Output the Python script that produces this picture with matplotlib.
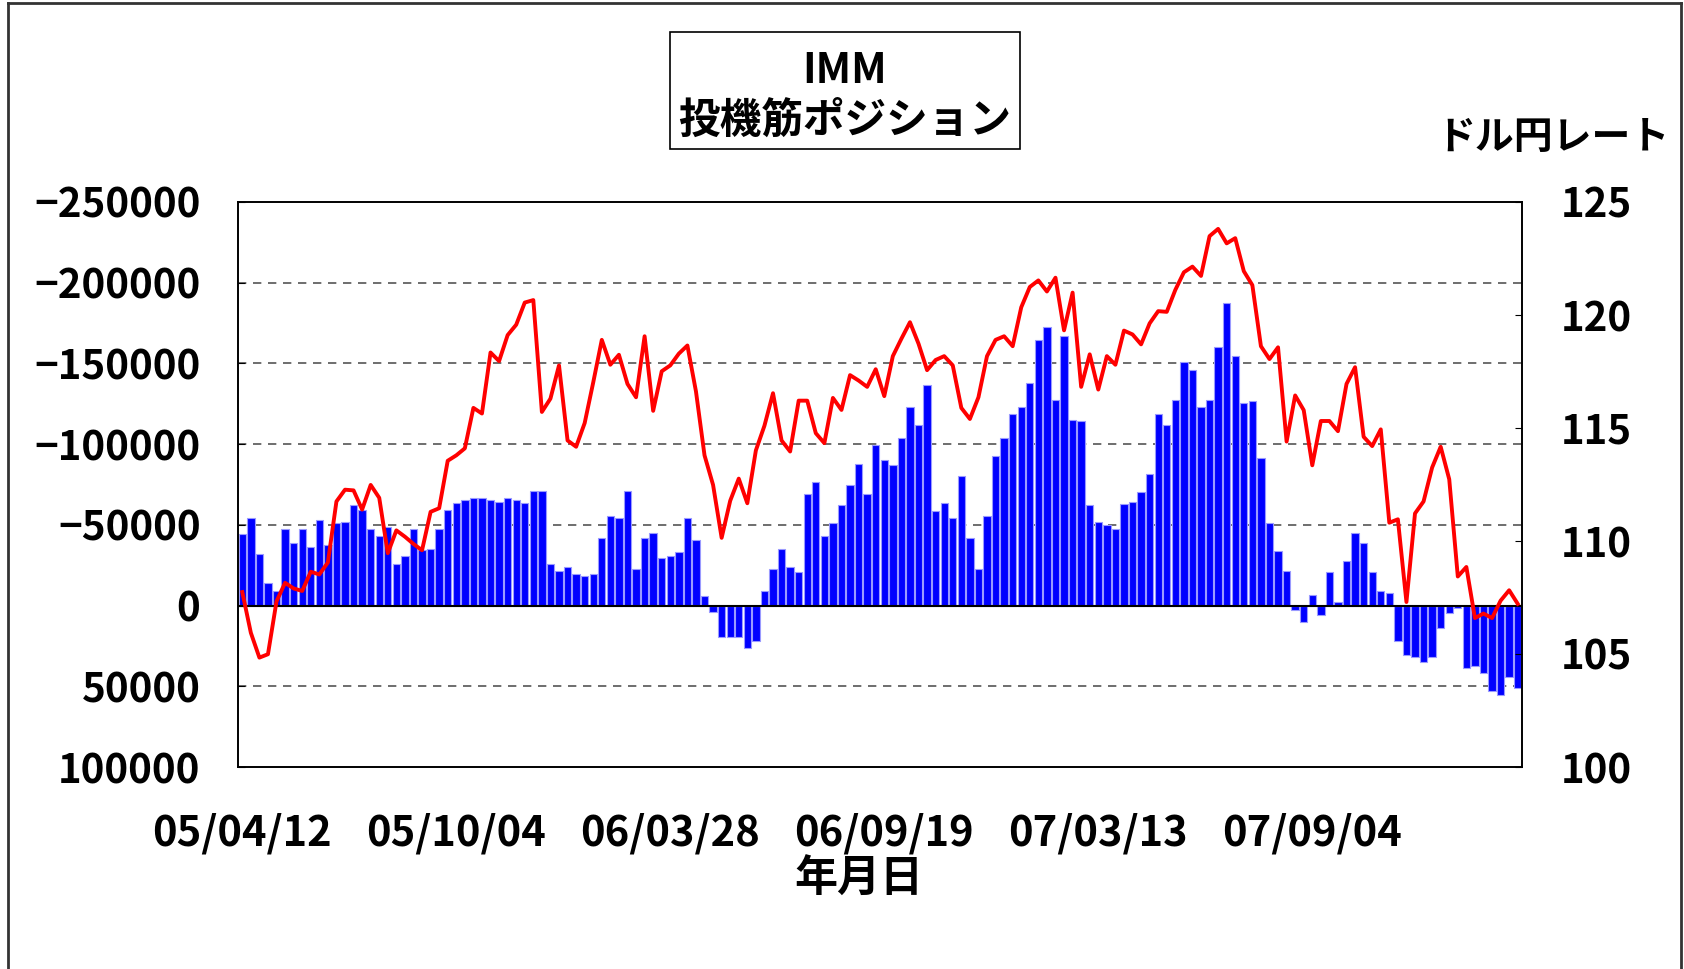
import matplotlib
matplotlib.use("Agg")
import matplotlib.pyplot as plt
from matplotlib.lines import Line2D
from matplotlib.patches import Rectangle
from matplotlib.ticker import FuncFormatter
import numpy as np

plt.rcParams['font.family'] = ['Noto Sans CJK JP', 'DejaVu Sans']
plt.rcParams['font.weight'] = 'bold'

# IMM speculative positions (negative = yen short, plotted upward on inverted axis)
positions = [
    -44500, -54300, -32000, -13700, -9100, -47500, -38600, -47500, -36100, -53200,
    -37700, -50900, -52000, -62100, -58900, -47500, -43100, -48400, -26000, -30600,
    -47500, -34500, -35000, -47500, -58900, -63500, -65500, -66900, -66900, -65500,
    -64400, -66900, -65500, -63500, -71200, -71200, -26000, -21700, -23700, -19400,
    -18300, -19400, -41800, -55500, -54300, -71200, -22600, -41800, -45200, -29500,
    -30600, -32900, -54300, -40900, -5900, 3700, 19400, 19400, 19400, 26000,
    21700, -9100, -22600, -35200, -23700, -20500, -68900, -76700, -42900, -50900,
    -62100, -74400, -87900, -68900, -99300, -90200, -86800, -103900, -123300, -111900,
    -136500, -58700, -63500, -54300, -80400, -41800, -22600, -55500, -92500, -103900,
    -118700, -123300, -137700, -164800, -172600, -127600, -167100, -115000, -114200, -62100,
    -52000, -49800, -47500, -63200, -64400, -70100, -81300, -118700, -111900, -127600,
    -151100, -145700, -123100, -127600, -160300, -187200, -154600, -125400, -126500, -91500,
    -50900, -34000, -21700, 2500, 10300, -6800, 5900, -20500, -2300, -27400,
    -45200, -38600, -20500, -9100, -8000, 21700, 30600, 31700, 35200, 31700,
    13700, 4800, 1400, 38400, 37200, 41800, 53000, 55200, 44000, 50900,
]

# USD/JPY rate
usdjpy = [
    107.74, 105.94, 104.84, 104.99, 107.33, 108.15, 107.90, 107.79, 108.64, 108.52,
    109.05, 111.75, 112.27, 112.24, 111.39, 112.48, 111.91, 109.46, 110.47, 110.19,
    109.87, 109.59, 111.29, 111.45, 113.55, 113.79, 114.10, 115.89, 115.64, 118.34,
    117.96, 119.11, 119.57, 120.55, 120.66, 115.71, 116.30, 117.77, 114.45, 114.17,
    115.22, 117.02, 118.90, 117.80, 118.24, 116.95, 116.36, 119.06, 115.76, 117.51,
    117.77, 118.29, 118.65, 116.62, 113.79, 112.48, 110.14, 111.78, 112.76, 111.67,
    114.01, 115.10, 116.54, 114.45, 113.96, 116.21, 116.21, 114.77, 114.33, 116.33,
    115.80, 117.34, 117.10, 116.82, 117.60, 116.41, 118.18, 118.95, 119.68, 118.73,
    117.56, 118.01, 118.18, 117.77, 115.89, 115.40, 116.36, 118.18, 118.90, 119.06,
    118.62, 120.34, 121.24, 121.53, 121.04, 121.65, 119.32, 120.99, 116.82, 118.26,
    116.70, 118.18, 117.80, 119.31, 119.14, 118.70, 119.63, 120.17, 120.14, 121.11,
    121.89, 122.14, 121.73, 123.49, 123.81, 123.17, 123.40, 121.94, 121.32, 118.62,
    118.05, 118.57, 114.40, 116.44, 115.79, 113.35, 115.31, 115.31, 114.86, 116.95,
    117.69, 114.61, 114.20, 114.94, 110.81, 110.96, 107.30, 111.22, 111.75, 113.25,
    114.17, 112.73, 108.43, 108.85, 106.59, 106.79, 106.59, 107.36, 107.82, 107.22,
]

tick_labels = ["05/04/12", "05/10/04", "06/03/28", "06/09/19", "07/03/13", "07/09/04"]
tick_step = 25

title_lines = ["IMM", "投機筋ポジション"]
right_label = "ドル円レート"
x_label = "年月日"

n = len(positions)
x = np.arange(n)

FS = 29

fig = plt.figure(figsize=(16.84, 9.69), dpi=100)
ax = fig.add_axes([238/1684, 1-767/969, (1522-238)/1684, (767-202)/969])
ax2 = ax.twinx()

ax.bar(x, positions, width=0.86, color='#0000FF', edgecolor='#9a9aff', linewidth=0.8, zorder=2)
ax.set_xlim(-0.5, n - 0.5)
ax.set_ylim(100000, -250000)
ax.set_yticks(np.arange(-250000, 100001, 50000))
ax.yaxis.set_major_formatter(FuncFormatter(lambda v, p: ("\u2212%d" % -v) if v < 0 else "%d" % v))
for gv in [-200000, -150000, -100000, -50000, 50000]:
    ax.axhline(gv, color='#555555', linestyle=(0, (5, 4)), linewidth=1.2, zorder=1)
ax.axhline(0, color='black', linewidth=1.5, zorder=3)

ax.set_xticks(x[::tick_step])
ax.set_xticklabels(tick_labels)
ax.tick_params(axis='x', length=0, pad=33, labelsize=30)
ax.tick_params(axis='y', direction='in', length=5, pad=27, labelsize=FS)
for lab in ax.get_xticklabels() + ax.get_yticklabels():
    lab.set_fontweight('bold')

ax2.plot(x, usdjpy, color='#FF0000', linewidth=2.8, zorder=4)
ax2.set_ylim(100, 125)
ax2.set_yticks(np.arange(100, 126, 5))
ax2.tick_params(axis='y', direction='in', length=5, pad=28, labelsize=FS)
for lab in ax2.get_yticklabels():
    lab.set_fontweight('bold')
ax.set_zorder(1)
ax2.set_zorder(2)
ax.patch.set_visible(True)
ax2.patch.set_visible(False)

for a in (ax, ax2):
    for s in a.spines.values():
        s.set_linewidth(1.2)
        s.set_color('black')

# x-axis label
fig.text(859/1684, 1-879/969, x_label, ha='center', va='center', fontsize=31, fontweight='bold')

# title box
fig.add_artist(Rectangle((670/1684, 1-149/969), 350/1684, 117/969, transform=fig.transFigure,
                         fill=False, edgecolor='black', linewidth=1.2))
fig.text(845/1684, 1-71/969, title_lines[0], ha='center', va='center', fontsize=30, fontweight='bold')
fig.text(845/1684, 1-121/969, title_lines[1], ha='center', va='center', fontsize=30, fontweight='bold')

fig.text(1553/1684, 1-137/969, right_label, ha='center', va='center', fontsize=28, fontweight='bold')

# outer border (left, top, right)
fig.add_artist(Line2D([8/1684, 8/1684], [0, 1-3/969], transform=fig.transFigure, color='#333333', linewidth=2))
fig.add_artist(Line2D([8/1684, 1681/1684], [1-3/969, 1-3/969], transform=fig.transFigure, color='#333333', linewidth=2))
fig.add_artist(Line2D([1681/1684, 1681/1684], [0, 1-3/969], transform=fig.transFigure, color='#333333', linewidth=2))

fig.savefig("out.png", dpi=100)
